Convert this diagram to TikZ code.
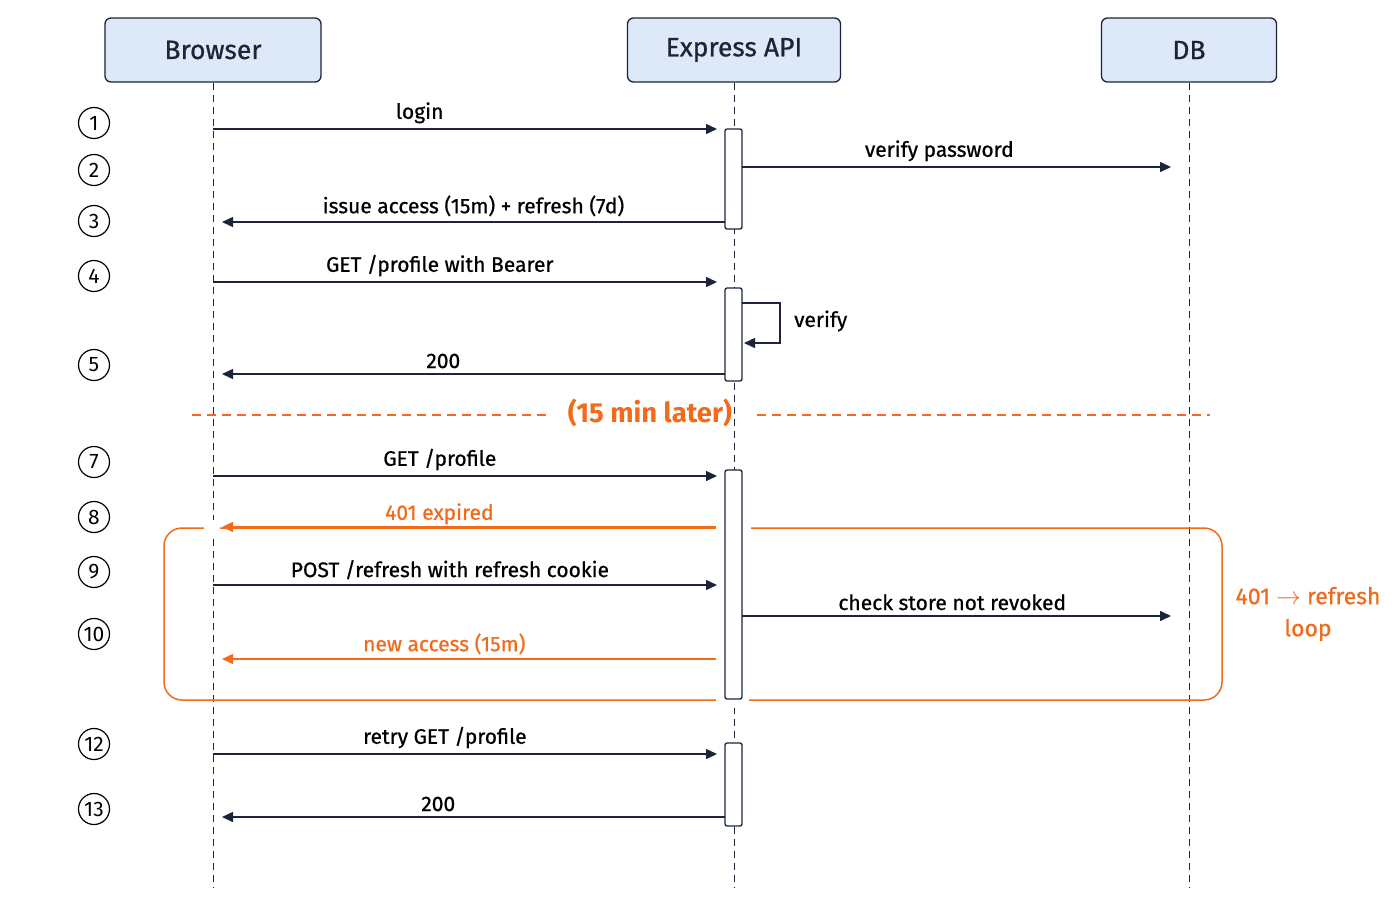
\documentclass[tikz,border=0pt]{standalone}
\usepackage{fontspec}
\setmainfont{Fira Sans}
\newfontfamily\med{Fira Sans}[FakeBold=0.7]
\usetikzlibrary{arrows.meta}
\definecolor{navy}{HTML}{1B2438}
\definecolor{boxfill}{HTML}{DDE8F8}
\definecolor{org}{HTML}{F26A1B}
\begin{document}
\begin{tikzpicture}[x=1pt,y=-1pt,
 actor/.style={draw=navy,line width=1.3pt,fill=boxfill,rounded corners=6pt,minimum height=64pt,font=\med\fontsize{26.5}{28}\selectfont,text=navy},
 life/.style={navy,line width=1pt,dash pattern=on 7pt off 5pt},
 num/.style={circle,draw=black,line width=1.2pt,minimum size=31pt,inner sep=0pt,font=\fontsize{21}{21}\selectfont},
 msg/.style={navy,line width=1.5pt,-{Triangle[length=11pt,width=10pt]}},
 omsg/.style={org,line width=1.5pt,-{Triangle[length=11pt,width=10pt]}},
 lbl/.style={font=\med\fontsize{21}{22}\selectfont,text=black,inner sep=2pt},
 olbl/.style={font=\med\fontsize{21}{22}\selectfont,text=org,inner sep=2pt},
 act/.style={draw=navy,line width=1.3pt,fill=white,rounded corners=2pt}]
\useasboundingbox (0,0) rectangle (1400,900);
\fill[white] (0,0) rectangle (1400,900);
\node[actor,minimum width=216pt] (br) at (213,50) {Browser};
\node[actor,minimum width=213pt] (ex) at (734,50) {Express API};
\node[actor,minimum width=175pt] (db) at (1189,50) {DB};
\coordinate (brE) at (213,887);\coordinate (exE) at (734,887);\coordinate (dbE) at (1189,887);
\draw[life] (br.south) -- (brE);
\draw[life] (ex.south) -- (exE);
\draw[life] (db.south) -- (dbE);
\foreach \n/\y in {1/123,2/170,3/221,4/276,5/365,7/462,8/517,9/572,10/634,12/744,13/809}
 \node[num] (n\n) at (94,\y) {\n};
\coordinate (s1) at (192,415);\coordinate (s2) at (548,415);
\coordinate (s3) at (757,415);\coordinate (s4) at (1210,415);
\draw[org,line width=1.4pt,dash pattern=on 9pt off 6pt] (s1)--(s2) (s3)--(s4);
\node[font=\fontsize{27.5}{30}\selectfont\bfseries,text=org] (later) at (650,413) {(15 min later)};
\draw[org,line width=1.5pt,rounded corners=18pt] (164,528) rectangle (1222,700);
\fill[white] (716,520) rectangle (751,536);
\fill[white] (716,692) rectangle (749,708);
\fill[white] (204,520) rectangle (220,536);
\node[font=\med\fontsize{23}{32}\selectfont,text=org,align=center] (lp) at (1308,614) {401 $\rightarrow$ refresh\\loop};
\node[act,minimum width=17pt,minimum height=100pt,inner sep=0pt] (a1) at (733.5,179) {};
\node[act,minimum width=17pt,minimum height=93pt,inner sep=0pt] (a2) at (733.5,334.5) {};
\node[act,minimum width=17pt,minimum height=229pt,inner sep=0pt] (a3) at (733.5,584.5) {};
\node[act,minimum width=17pt,minimum height=83pt,inner sep=0pt] (a4) at (733.5,784.5) {};
\coordinate (b1) at (213,129); \coordinate (e1) at (717,129);
\coordinate (a1r) at (742,167); \coordinate (d1) at (1171,167);
\coordinate (a1l) at (725,222); \coordinate (b3) at (222,222);
\coordinate (b4) at (213,282); \coordinate (e4) at (717,282);
\coordinate (a2l) at (725,374); \coordinate (b5) at (222,374);
\coordinate (b7) at (213,476); \coordinate (e7) at (717,476);
\coordinate (e8) at (716,527); \coordinate (b8) at (222,527);
\coordinate (b9) at (213,585); \coordinate (e9) at (717,585);
\coordinate (a3r) at (742,616); \coordinate (d10) at (1171,616);
\coordinate (e11) at (716,659); \coordinate (b11) at (222,659);
\coordinate (b12) at (213,754); \coordinate (e12) at (717,754);
\coordinate (a4l) at (725,817); \coordinate (b13) at (222,817);
\draw[msg] (b1) -- node[lbl,above=3pt,pos=0.41] {login} (e1);
\draw[msg] (a1r) -- node[lbl,above=3pt,pos=0.46] {verify password} (d1);
\draw[msg] (a1l) -- node[lbl,above=3pt,pos=0.5] {issue access (15m) + refresh (7d)} (b3);
\draw[msg] (b4) -- node[lbl,above=3pt,pos=0.45] {GET /profile with Bearer} (e4);
\draw[msg] (742,303) -- (780,303) -- (780,343) -- (744,343);
\node[lbl,anchor=west] (vf) at (792,321) {verify};
\draw[msg] (a2l) -- node[lbl,above=3pt,pos=0.56] {200} (b5);
\draw[msg] (b7) -- node[lbl,above=3pt,pos=0.45] {GET /profile} (e7);
\draw[omsg] (e8) -- node[olbl,above=0pt,pos=0.56] {401 expired} (b8);
\draw[msg] (b9) -- node[lbl,above=3pt,pos=0.47] {POST /refresh with refresh cookie} (e9);
\draw[msg] (a3r) -- node[lbl,above=3pt,pos=0.49] {check store not revoked} (d10);
\draw[omsg] (e11) -- node[olbl,above=2pt,pos=0.55] {new access (15m)} (b11);
\draw[msg] (b12) -- node[lbl,above=3pt,pos=0.46] {retry GET /profile} (e12);
\draw[msg] (a4l) -- node[lbl,above=3pt,pos=0.57] {200} (b13);
\end{tikzpicture}
\end{document}
